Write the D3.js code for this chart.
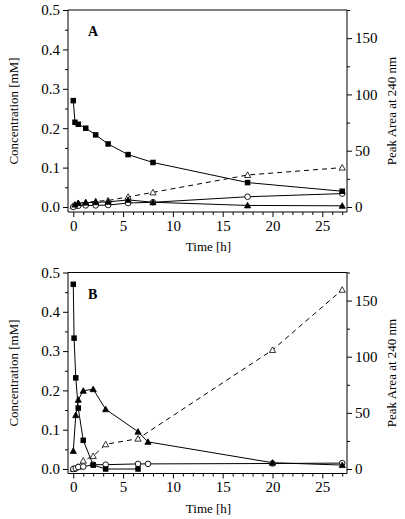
<!DOCTYPE html>
<html><head><meta charset="utf-8">
<script src="https://cdn.jsdelivr.net/npm/d3@7"></script>
<style>body{margin:0;background:#fff}svg{display:block}</style>
</head><body><svg id="c" width="405" height="519" font-family="Liberation Serif"></svg>
<script>
// ---- data (panel A) ----
const timeA_sq = [0, 0.17, 0.5, 1.25, 2.25, 3.5, 5.5, 8, 17.5, 27];
const concA_sq = [0.27, 0.215, 0.21, 0.2, 0.183, 0.16, 0.133, 0.113, 0.062, 0.04];
const timeA_ft = [0.17, 0.5, 1.25, 2.25, 3.5, 5.5, 8, 17.5, 27];
const concA_ft = [0.006, 0.01, 0.011, 0.012, 0.013, 0.018, 0.012, 0.004, 0.003];
const timeA_oc = [0, 0.5, 1.25, 2.25, 3.5, 5.5, 8, 17.5, 27];
const concA_oc = [0, 0.003, 0.004, 0.004, 0.005, 0.01, 0.012, 0.026, 0.034];
const timeA_ot = [0, 0.5, 1.25, 2.25, 3.5, 5.5, 8, 17.5, 27];
const areaA_ot = [1, 3.3, 4.2, 5, 5.8, 9, 13, 28.4, 35];
// ---- data (panel B) ----
const timeB_sq = [0, 0.08, 0.25, 0.5, 1, 2, 3.25, 6.5];
const concB_sq = [0.47, 0.333, 0.232, 0.155, 0.073, 0.01, 0, 0];
const timeB_ft = [0, 0.25, 0.5, 1, 2, 3.25, 6.5, 7.5, 20, 27];
const concB_ft = [0.046, 0.137, 0.176, 0.199, 0.203, 0.152, 0.095, 0.069, 0.016, 0.01];
const timeB_oc = [0, 0.25, 0.5, 1, 2, 3.25, 6.5, 7.5, 20, 27];
const concB_oc = [0, 0.002, 0.005, 0.006, 0.011, 0.011, 0.013, 0.013, 0.014, 0.015];
const timeB_ot = [0, 0.5, 1, 2, 3.25, 6.5, 20, 27];
const areaB_ot = [0, 2, 7.4, 11.5, 22, 27, 106, 159.6];
// ---- ticks ----
const xMajor = [0, 5, 10, 15, 20, 25];
const yLeftMajor = [0, 0.1, 0.2, 0.3, 0.4, 0.5];
const yRightMajor = [0, 50, 100, 150];

const FONT = "Liberation Serif";
const svg = d3.select("#c");
const X0 = 68, X1 = 347;
const x = d3.scaleLinear().domain([-0.53, 27.48]).range([X0, X1]);

function zip(t, v) { return t.map((d, i) => [d, v[i]]); }

function panel(top, zeroY, axisY, letter, series) {
  const yL = d3.scaleLinear().domain([0, 0.5]).range([zeroY, top]);
  const yR = d3.scaleLinear().domain([0, 175]).range([zeroY, top]);
  const g = svg.append("g");
  g.append("line").attr("x1", X0).attr("x2", X1).attr("y1", top).attr("y2", top).attr("stroke", "#000");
  g.append("line").attr("x1", X0).attr("x2", X0).attr("y1", top).attr("y2", axisY).attr("stroke", "#000");
  g.append("line").attr("x1", X1).attr("x2", X1).attr("y1", top).attr("y2", axisY).attr("stroke", "#000");
  const xa = g.append("g").attr("transform", `translate(0,${axisY})`)
    .call(d3.axisBottom(x).tickValues(xMajor).tickSize(5).tickSizeOuter(0).tickPadding(3).tickFormat(d3.format("d")));
  xa.select(".domain").attr("d", `M${X0},0H${X1}`);
  xa.attr("font-family", FONT).attr("font-size", 15);
  g.append("g").attr("transform", `translate(0,${axisY})`)
    .call(d3.axisBottom(x).tickValues(d3.range(0, 28, 1).filter(d => d % 5)).tickSize(3).tickFormat(""))
    .select(".domain").remove();
  const la = g.append("g").attr("transform", `translate(${X0},0)`)
    .call(d3.axisLeft(yL).tickValues(yLeftMajor).tickSize(5).tickPadding(3).tickFormat(d3.format(".1f")));
  la.select(".domain").remove();
  la.attr("font-family", FONT).attr("font-size", 15);
  g.append("g").attr("transform", `translate(${X0},0)`)
    .call(d3.axisLeft(yL).tickValues([0.05, 0.15, 0.25, 0.35, 0.45]).tickSize(3).tickFormat(""))
    .select(".domain").remove();
  const ra = g.append("g").attr("transform", `translate(${X1},0)`)
    .call(d3.axisRight(yR).tickValues(yRightMajor).tickSize(5).tickPadding(3).tickFormat(d3.format("d")));
  ra.select(".domain").remove();
  ra.attr("font-family", FONT).attr("font-size", 15);
  g.append("g").attr("transform", `translate(${X1},0)`)
    .call(d3.axisRight(yR).tickValues([25, 75, 125, 175]).tickSize(3).tickFormat(""))
    .select(".domain").remove();
  g.append("text").attr("x", (X0 + X1) / 2 + 1).attr("y", axisY + 39).attr("text-anchor", "middle")
    .attr("font-family", FONT).attr("font-size", 13).text("Time [h]");
  g.append("text").attr("transform", `translate(18,${(top + axisY) / 2}) rotate(-90)`).attr("text-anchor", "middle")
    .attr("font-family", FONT).attr("font-size", 13).text("Concentration [mM]");
  g.append("text").attr("transform", `translate(396,${(top + axisY) / 2}) rotate(-90)`).attr("text-anchor", "middle")
    .attr("font-family", FONT).attr("font-size", 13).text("Peak Area at 240 nm");
  g.append("text").attr("x", 88).attr("y", top + 26).attr("font-family", FONT).attr("font-size", 14)
    .attr("font-weight", "bold").text(letter);

  const line = d3.line();
  series.forEach(s => {
    const sc = s.right ? yR : yL;
    s.pts = s.data.map(d => [x(d[0]), sc(d[1])]);
    g.append("path").attr("d", line(s.pts)).attr("fill", "none").attr("stroke", "#000").attr("stroke-width", 1)
      .attr("stroke-dasharray", s.dash ? "5,4" : null);
  });
  series.forEach(s => {
    s.pts.forEach(p => {
      if (s.mark === "sq") {
        g.append("rect").attr("x", p[0] - 2.75).attr("y", p[1] - 2.75).attr("width", 5.5).attr("height", 5.5).attr("fill", "#000");
      } else if (s.mark === "ft" || s.mark === "ot") {
        const r = 3.1;
        const tri = `M${p[0]},${p[1] - r}L${p[0] + r},${p[1] + r * 0.8}L${p[0] - r},${p[1] + r * 0.8}Z`;
        g.append("path").attr("d", tri).attr("fill", s.mark === "ft" ? "#000" : "#fff").attr("stroke", "#000").attr("stroke-width", 0.8);
      } else if (s.mark === "oc") {
        g.append("circle").attr("cx", p[0]).attr("cy", p[1]).attr("r", 2.8).attr("fill", "#fff").attr("stroke", "#000").attr("stroke-width", 0.9);
      }
    });
  });
}

panel(10, 207, 212, "A", [
  { data: zip(timeA_ot, areaA_ot), right: true, dash: true, mark: "ot" },
  { data: zip(timeA_oc, concA_oc), mark: "oc" },
  { data: zip(timeA_ft, concA_ft), mark: "ft" },
  { data: zip(timeA_sq, concA_sq), mark: "sq" }
]);
panel(272.5, 469, 473.5, "B", [
  { data: zip(timeB_ot, areaB_ot), right: true, dash: true, mark: "ot" },
  { data: zip(timeB_oc, concB_oc), mark: "oc" },
  { data: zip(timeB_ft, concB_ft), mark: "ft" },
  { data: zip(timeB_sq, concB_sq), mark: "sq" }
]);
</script></body></html>
